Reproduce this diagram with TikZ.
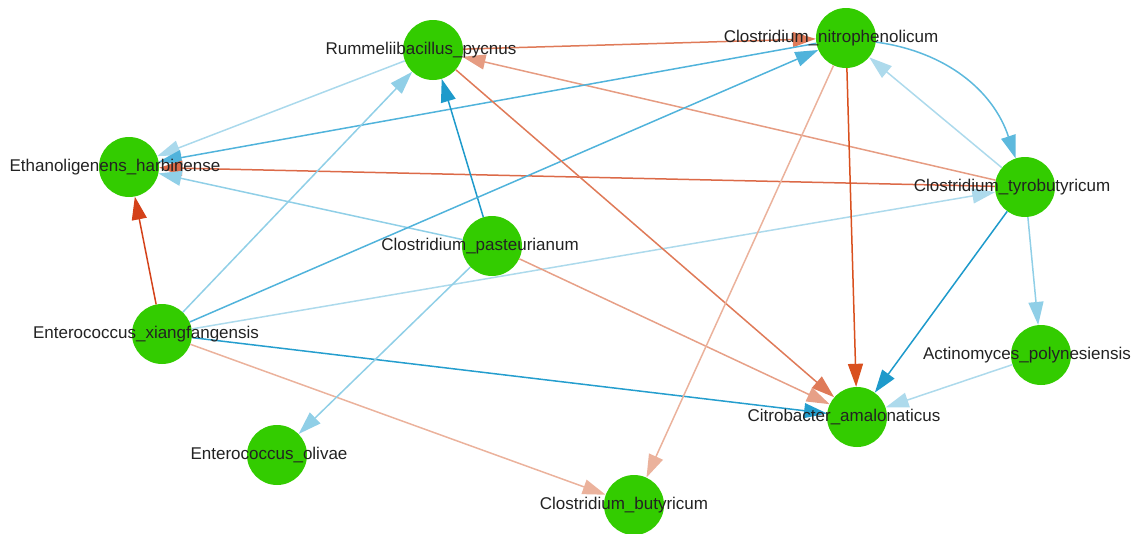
\documentclass[tikz,border=0pt]{standalone}
\usepackage{fontspec}
\setmainfont{Liberation Sans}
\usetikzlibrary{arrows.meta}
\definecolor{nodegreen}{HTML}{33CC00}
\definecolor{txt}{HTML}{222222}
\definecolor{redA}{HTML}{D4421A}
\definecolor{redB}{HTML}{D9501E}
\definecolor{orM}{HTML}{DF7A58}
\definecolor{orM2}{HTML}{DC6A48}
\definecolor{orL}{HTML}{E69C82}
\definecolor{orLL}{HTML}{EBB29C}
\definecolor{blD}{HTML}{1E9ACB}
\definecolor{blM}{HTML}{50B3DB}
\definecolor{blL}{HTML}{90CFE7}
\definecolor{blLL}{HTML}{ADDAEC}
\tikzset{
  vert/.style={circle,fill=nodegreen,draw=none,minimum size=60pt,inner sep=0pt},
  lab/.style={text=txt,font=\fontsize{17}{20}\selectfont,inner sep=0pt},
  arr/.style={-{Triangle[length=23pt,width=15pt]},line width=1.5pt},
}
\begin{document}
\begin{tikzpicture}[x=1pt,y=-1pt]
\useasboundingbox (0,0) rectangle (1134,533);
% nodes
\node[vert] (R) at (433,50) {};
\node[vert] (N) at (846,38) {};
\node[vert] (E) at (129,167) {};
\node[vert] (T) at (1025,187) {};
\node[vert] (P) at (492,246) {};
\node[vert] (X) at (162,334) {};
\node[vert] (A) at (1041,355) {};
\node[vert] (C) at (857,417) {};
\node[vert] (O) at (277,455) {};
\node[vert] (B) at (634,505) {};
% edges
\draw[arr,orM] (R) -- (N);
\draw[arr,orL] (T) -- (R);
\draw[arr,blLL!90!blL] (R) -- (E);
\draw[arr,blM] (N) -- (E);
\draw[arr,orM2] (T) -- (E);
\draw[arr,blL] (P) -- (E);
\draw[arr,redA] (X) -- (E);
\draw[arr,blD] (P) -- (R);
\draw[arr,blL] (X) -- (R);
\draw[arr,blM] (X) -- (N);
\draw[arr,blLL] (X) -- (T);
\draw[arr,blD!85!blM] (X) -- (C);
\draw[arr,orLL] (X) -- (B);
\draw[arr,blL] (P) -- (O);
\draw[arr,orM] (R) -- (C);
\draw[arr,orL!80!orLL] (P) -- (C);
\draw[arr,redB] (N) -- (C);
\draw[arr,orLL] (N) -- (B);
\draw[arr,blLL] (T) -- (N);
\draw[arr,blM!80!blL] (N) to[bend left=32] (T);
\draw[arr,blD] (T) -- (C);
\draw[arr,blL] (T) -- (A);
\draw[arr,blLL] (A) -- (C);
% labels
\node[lab] (Rl) at ([xshift=-12pt]R.center) {Rummeliibacillus\_pycnus};
\node[lab] (Nl) at ([xshift=-15pt]N.center) {Clostridium\_nitrophenolicum};
\node[lab] (El) at ([xshift=-14pt]E.center) {Ethanoligenens\_harbinense};
\node[lab] (Tl) at ([xshift=-13pt]T.center) {Clostridium\_tyrobutyricum};
\node[lab] (Pl) at ([xshift=-12pt]P.center) {Clostridium\_pasteurianum};
\node[lab] (Xl) at ([xshift=-16pt]X.center) {Enterococcus\_xiangfangensis};
\node[lab] (Al) at ([xshift=-14pt]A.center) {Actinomyces\_polynesiensis};
\node[lab] (Cl) at ([xshift=-13pt]C.center) {Citrobacter\_amalonaticus};
\node[lab] (Ol) at ([xshift=-8pt]O.center) {Enterococcus\_olivae};
\node[lab] (Bl) at ([xshift=-10pt]B.center) {Clostridium\_butyricum};
\end{tikzpicture}
\end{document}
